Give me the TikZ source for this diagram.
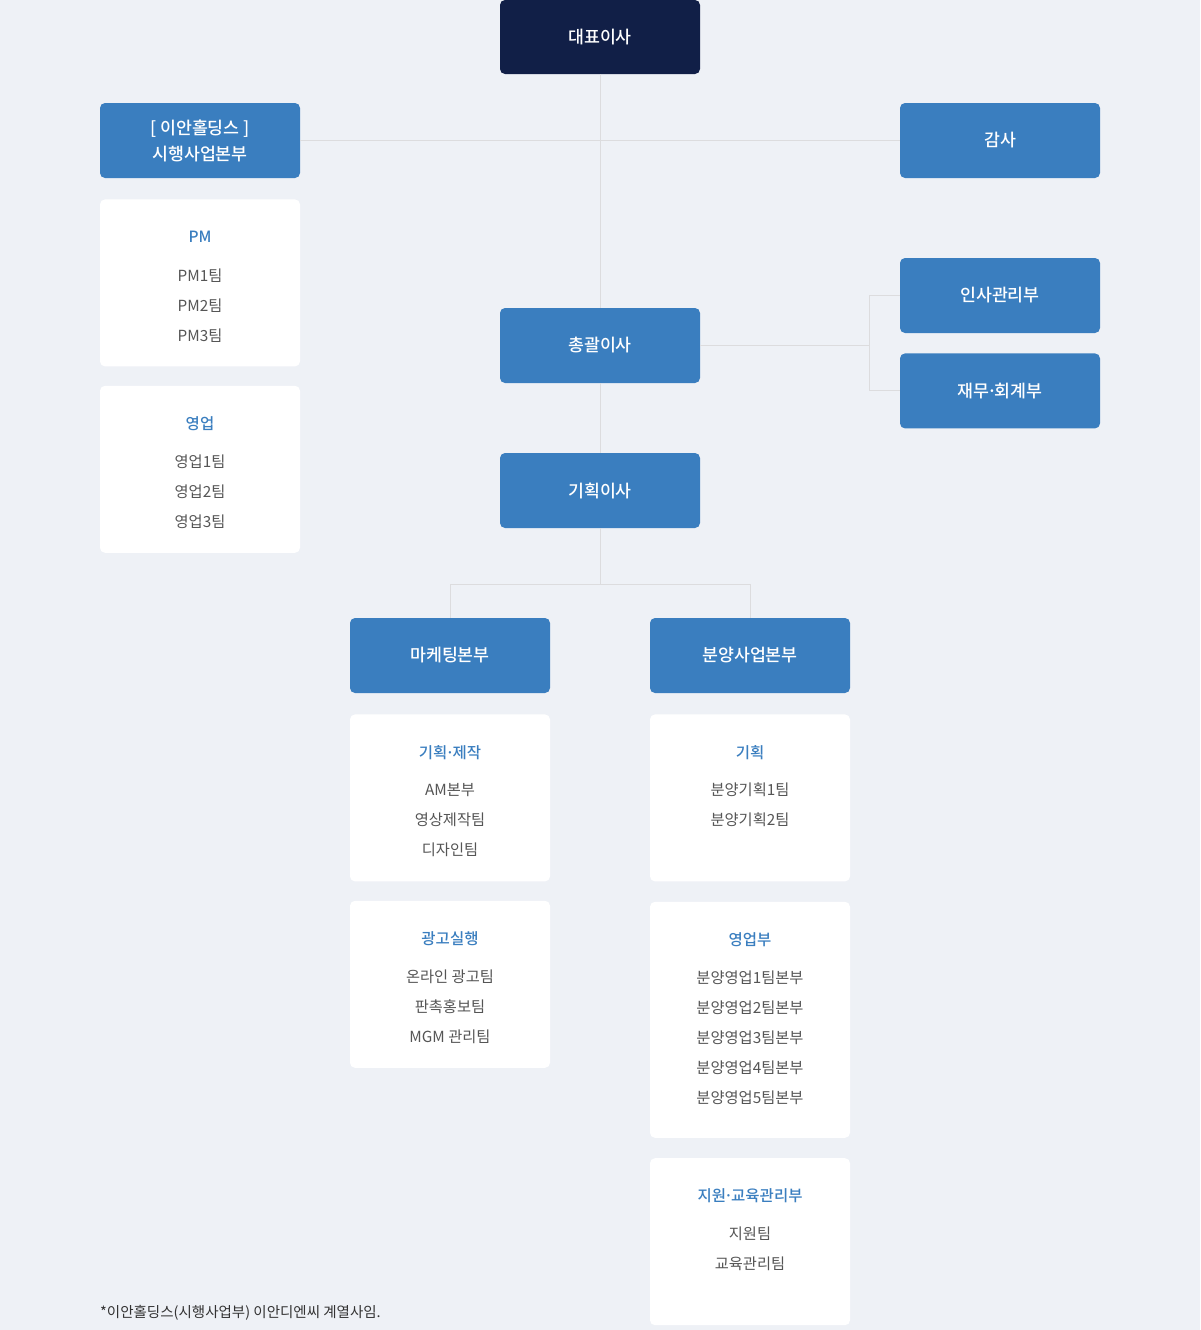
\documentclass[tikz,border=0pt]{standalone}
\usepackage{fontspec}
\setmainfont{Noto Sans CJK KR}
\newfontfamily\krmed{Noto Sans CJK KR Medium}
\usepackage{tikz}
\usetikzlibrary{positioning}
\usetikzlibrary{calc}
\definecolor{bgc}{HTML}{EEF1F6}
\definecolor{navy}{HTML}{111F47}
\definecolor{deptblue}{HTML}{3A7EBF}
\definecolor{linec}{HTML}{DCDCDE}
\definecolor{itemc}{HTML}{555555}
\definecolor{notec}{HTML}{333333}
\newcommand{\md}{\kern-0.12em·\kern-0.12em}
\tikzset{head/.style={rectangle, rounded corners=5pt, fill=deptblue, text=white, minimum width=200pt, minimum height=75pt, inner sep=0pt, align=center, font=\krmed\fontsize{17.3}{26}\selectfont}}
\tikzset{card/.style={rectangle, rounded corners=5pt, fill=white, minimum width=200pt, minimum height=167pt, inner sep=0pt}}
\tikzset{cardtitle/.style={text=deptblue, inner sep=0pt, font=\krmed\fontsize{15.5}{18}\selectfont}}
\tikzset{cardlist/.style={text=itemc, inner sep=0pt, align=center, font=\fontsize{15.3}{30}\selectfont}}
\tikzset{link/.style={draw=linec, line width=1pt}}

\begin{document}
\begin{tikzpicture}[x=1pt, y=1pt, node distance=20pt and 30pt]
\path[use as bounding box, fill=bgc] (0,0) rectangle (1200,-1330);

\node[head, fill=navy, minimum height=74pt] (ceo) at (600,-37) {대표이사};
\node[head] (holding) at (200,-140.5) {[ 이안홀딩스 ]\\시행사업본부};
\node[head] (audit) at (1000,-140.5) {감사};
\node[head] (gm) at (600,-345.5) {총괄이사};
\node[head] (hr) at (1000,-295.5) {인사관리부};
\node[head, below=of hr] (fin) {재무\md 회계부};
\node[head] (plan) at (600,-490.5) {기획이사};
\node[head] (mkt) at (450,-655.5) {마케팅본부};
\node[head] (sale) at (750,-655.5) {분양사업본부};

\node[card, below=21pt of holding] (pm) {};
\node[cardtitle] (pmh) at ($(pm.north)+(0,-38)$) {PM};
\node[cardlist] (pml) at ($(pm.north)+(0,-106)$) {PM1팀\\PM2팀\\PM3팀};
\node[card, below=19pt of pm] (biz) {};
\node[cardtitle] (bizh) at ($(biz.north)+(0,-38)$) {영업};
\node[cardlist] (bizl) at ($(biz.north)+(0,-106)$) {영업1팀\\영업2팀\\영업3팀};

\node[card, below=21pt of mkt] (make) {};
\node[cardtitle] (makeh) at ($(make.north)+(0,-38)$) {기획\md 제작};
\node[cardlist] (makel) at ($(make.north)+(0,-106)$) {AM본부\\영상제작팀\\디자인팀};
\node[card, below=19pt of make] (ad) {};
\node[cardtitle] (adh) at ($(ad.north)+(0,-38)$) {광고실행};
\node[cardlist] (adl) at ($(ad.north)+(0,-106)$) {온라인 광고팀\\판촉홍보팀\\MGM 관리팀};

\node[card, below=21pt of sale] (splan) {};
\node[cardtitle] (splanh) at ($(splan.north)+(0,-38)$) {기획};
\node[cardlist] (splanl) at ($(splan.north)+(0,-91)$) {분양기획1팀\\분양기획2팀};
\node[card, below=of splan, minimum height=236pt] (ssale) {};
\node[cardtitle] (ssaleh) at ($(ssale.north)+(0,-38)$) {영업부};
\node[cardlist] (ssalel) at ($(ssale.north)+(0,-136)$) {분양영업1팀본부\\분양영업2팀본부\\분양영업3팀본부\\분양영업4팀본부\\분양영업5팀본부};
\node[card, below=of ssale] (edu) {};
\node[cardtitle] (eduh) at ($(edu.north)+(0,-38)$) {지원\md 교육관리부};
\node[cardlist] (edul) at ($(edu.north)+(0,-91)$) {지원팀\\교육관리팀};

\node[anchor=west, text=notec, inner sep=0pt, font=\fontsize{14.5}{16}\selectfont] (note) at (100,-1313) {*이안홀딩스(시행사업부) 이안디엔씨 계열사임.};

\coordinate[left=of hr.west] (hrj);
\coordinate[below=56pt of plan.south] (pj);

\draw[link] (ceo.south) -- (gm.north);
\draw[link] (gm.south) -- (plan.north);
\draw[link] (holding.east) -- (audit.west);
\draw[link] (gm.east) -- (gm.east -| hrj);
\draw[link] (hr.west) -- (hrj) |- (fin.west);
\draw[link] (plan.south) -- (pj);
\draw[link] (mkt.north) |- (pj) -| (sale.north);
\end{tikzpicture}
\end{document}
